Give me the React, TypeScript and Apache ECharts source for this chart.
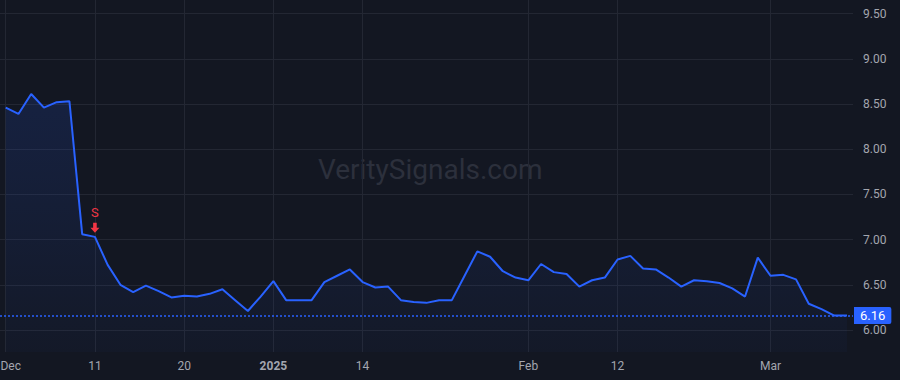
import React, { useEffect, useRef } from "react";
import * as echarts from "echarts";

const dates: string[] = [
  "2024-12-02","2024-12-03","2024-12-04","2024-12-05","2024-12-06","2024-12-09","2024-12-10","2024-12-11","2024-12-12","2024-12-13",
  "2024-12-16","2024-12-17","2024-12-18","2024-12-19","2024-12-20","2024-12-23","2024-12-24","2024-12-26","2024-12-27","2024-12-30",
  "2024-12-31","2025-01-02","2025-01-03","2025-01-06","2025-01-07","2025-01-08","2025-01-10","2025-01-13","2025-01-14","2025-01-15",
  "2025-01-16","2025-01-17","2025-01-21","2025-01-22","2025-01-23","2025-01-24","2025-01-27","2025-01-28","2025-01-29","2025-01-30",
  "2025-01-31","2025-02-03","2025-02-04","2025-02-05","2025-02-06","2025-02-07","2025-02-10","2025-02-11","2025-02-12","2025-02-13",
  "2025-02-14","2025-02-18","2025-02-19","2025-02-20","2025-02-21","2025-02-24","2025-02-25","2025-02-26","2025-02-27","2025-02-28",
  "2025-03-03","2025-03-04","2025-03-05","2025-03-06","2025-03-07","2025-03-10","2025-03-11",
];

const prices: number[] = [
  8.46, 8.39, 8.61, 8.46, 8.52, 8.53, 7.06, 7.03, 6.72, 6.5,
  6.42, 6.49, 6.43, 6.36, 6.38, 6.37, 6.4, 6.45, 6.33, 6.21,
  6.37, 6.54, 6.33, 6.33, 6.33, 6.53, 6.6, 6.67, 6.53, 6.47,
  6.48, 6.33, 6.31, 6.3, 6.33, 6.33, 6.6, 6.87, 6.81, 6.65,
  6.58, 6.55, 6.73, 6.64, 6.62, 6.48, 6.55, 6.58, 6.78, 6.82,
  6.68, 6.67, 6.58, 6.48, 6.55, 6.54, 6.52, 6.46, 6.37, 6.8,
  6.6, 6.61, 6.56, 6.29, 6.23, 6.16, 6.16,
];

const tickDates: string[] = ["2024-12-02", "2024-12-11", "2024-12-20", "2025-01-02", "2025-01-14", "2025-02-03", "2025-02-12", "2025-03-03"];
const tickLabels: string[] = ["Dec", "11", "20", "2025", "14", "Feb", "12", "Mar"];
const yTicks: number[] = [6.0, 6.5, 7.0, 7.5, 8.0, 8.5, 9.0, 9.5];
const signalDate = "2024-12-11";
const signalText = "S";
const lastPrice = 6.16;
const watermark = "VeritySignals.com";

export default function App() {
  const ref = useRef<HTMLDivElement>(null);
  useEffect(() => {
    document.body.style.margin = "0";
    document.body.style.background = "#131722";
    const chart = echarts.init(ref.current!, null, { renderer: "svg" });
    const tickIdx = tickDates.map((d) => dates.indexOf(d));
    const labelMap: Record<number, string> = {};
    tickIdx.forEach((i, k) => (labelMap[i] = tickLabels[k]));
    const sigIdx = dates.indexOf(signalDate);
    const gridColor = "#232733";
    const textColor = "#a3a6af";
    const font = "Roboto, 'Liberation Sans', Arial, sans-serif";
    chart.setOption({
      animation: false,
      backgroundColor: "#131722",
      grid: { left: 0, right: 47, top: 0, bottom: 28, containLabel: false, outerBoundsMode: "none" },
      graphic: [
        {
          type: "text",
          left: 427 - 109,
          top: 155,
          z: 0,
          silent: true,
          style: { text: watermark, fill: "#2c303c", font: "28px " + font },
        },
      ],
      xAxis: {
        type: "value",
        min: -0.447,
        max: dates.length - 1 + 0.47,
        axisLine: { show: false },
        axisTick: { show: false, customValues: tickIdx },
        splitLine: { show: true, lineStyle: { color: gridColor, width: 1 } },
        axisLabel: {
          customValues: tickIdx,
          margin: 8,
          color: textColor,
          fontSize: 12,
          fontFamily: font,
          formatter: (v: number) => {
            const s = labelMap[Math.round(v)] ?? "";
            if (s === "2025") return "{b|" + s + "}";
            if (Math.round(v) === 0) return "{f|" + s + "}";
            return s;
          },
          rich: {
            b: { fontWeight: "bold", color: textColor, fontSize: 12, fontFamily: font },
            f: { padding: [0, 0, 0, 10], color: textColor, fontSize: 12, fontFamily: font },
          },
        },
      },
      yAxis: {
        type: "value",
        position: "right",
        min: 5.7566,
        max: 9.65,
        axisLine: { show: false },
        axisTick: { show: false, customValues: yTicks },
        splitLine: { show: true, lineStyle: { color: gridColor, width: 1 } },
        axisLabel: {
          customValues: yTicks,
          margin: 10,
          color: textColor,
          fontSize: 12,
          fontFamily: font,
          formatter: (v: number) => v.toFixed(2),
        },
      },
      series: [
        {
          type: "line",
          data: prices.map((p, i) => [i, p]),
          symbol: "none",
          lineStyle: { color: "#2962ff", width: 2 },
          areaStyle: {
            origin: "start",
            color: new echarts.graphic.LinearGradient(0, 0, 0, 1, [
              { offset: 0, color: "rgba(41,98,255,0.2)" },
              { offset: 1, color: "rgba(41,98,255,0.04)" },
            ]),
          },
          z: 3,
          markLine: {
            silent: true,
            symbol: ["none", "none"],
            lineStyle: { color: "#2962ff", type: [2, 2], width: 1.5, opacity: 1 },
            emphasis: { disabled: true },
            data: [
              [
                { coord: [-0.447, lastPrice] },
                { coord: [dates.length - 1 + 0.47, lastPrice] },
              ],
            ],
            label: {
              show: true,
              position: "end",
              distance: 1,
              formatter: () => lastPrice.toFixed(2),
              backgroundColor: "#2962ff",
              color: "#ffffff",
              fontSize: 13,
              fontFamily: font,
              padding: [2, 6, 2, 6],
              borderRadius: [0, 2, 2, 0],
            },
          },
          markPoint: {
            silent: true,
            data: [
              {
                coord: [sigIdx, prices[sigIdx]],
                symbol: "path://M3,0 L7,0 L7,5 L10,5 L5,10 L0,5 L3,5 Z",
                symbolSize: [9, 10],
                symbolOffset: [0, -9],
                itemStyle: { color: "#f23645" },
                label: {
                  show: true,
                  position: "top",
                  distance: 4,
                  formatter: signalText,
                  color: "#f23645",
                  fontSize: 13,
                  fontFamily: font,
                },
              },
            ],
          },
        },
      ],
    });
    return () => chart.dispose();
  }, []);
  return <div ref={ref} style={{ position: "fixed", left: 0, top: 0, width: 900, height: 380 }} />;
}
